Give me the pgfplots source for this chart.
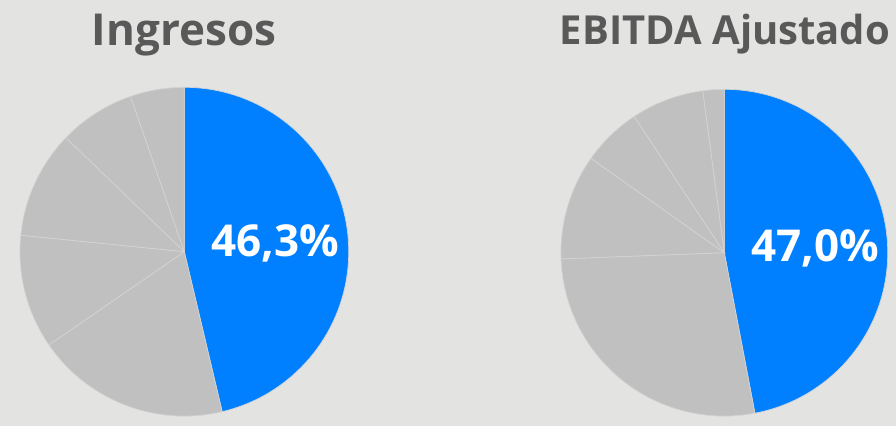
\documentclass[border=0pt]{standalone}
\usepackage{pgfplots}
\pgfplotsset{compat=1.18}
\usepackage{fontspec}
\setmainfont{Open Sans}
\definecolor{bgC}{RGB}{227,227,225}
\definecolor{grayC}{RGB}{192,192,192}
\definecolor{blueC}{RGB}{0,128,255}
\definecolor{sepC}{RGB}{212,212,212}
\definecolor{titleC}{RGB}{89,89,89}
% slice shares (percent), clockwise from 12 o'clock
% Ingresos: 46.3, 19.1, 11.2, 10.6, 7.5, 5.3
% EBITDA Ajustado: 47.0, 27.4, 10.4, 5.9, 7.2, 2.1
\begin{document}
\begin{tikzpicture}
\begin{axis}[
  hide axis, scale only axis, clip=false,
  width=672pt, height=319.5pt,
  xmin=0, xmax=896, ymin=0, ymax=426,
]
\fill[bgC] (0,0) rectangle (896,426);
\coordinate (ll) at (0,0);
\coordinate (ur) at (896,426);
\newcommand{\slice}[6]{%
  \filldraw[fill=#6, draw=sepC, line width=0.5pt] (#1,#2) -- ++({90-3.6*(#4)}:#3) arc[start angle={90-3.6*(#4)}, end angle={90-3.6*(#5)}, radius=#3] -- cycle;}
% Left pie
\slice{184.3}{174.3}{164.4}{0}{46.3}{blueC}
\slice{184.3}{174.3}{164.4}{46.3}{65.4}{grayC}
\slice{184.3}{174.3}{164.4}{65.4}{76.6}{grayC}
\slice{184.3}{174.3}{164.4}{76.6}{87.2}{grayC}
\slice{184.3}{174.3}{164.4}{87.2}{94.7}{grayC}
\slice{184.3}{174.3}{164.4}{94.7}{100}{grayC}
% Right pie
\slice{724.3}{173.3}{163.4}{0}{47.0}{blueC}
\slice{724.3}{173.3}{163.4}{47.0}{74.4}{grayC}
\slice{724.3}{173.3}{163.4}{74.4}{84.8}{grayC}
\slice{724.3}{173.3}{163.4}{84.8}{90.7}{grayC}
\slice{724.3}{173.3}{163.4}{90.7}{97.9}{grayC}
\slice{724.3}{173.3}{163.4}{97.9}{100}{grayC}
\node[anchor=base, text=titleC, font=\fontsize{33}{35}\selectfont\bfseries] at (184,380.3) {Ingresos};
\node[anchor=base, text=titleC, font=\fontsize{30}{32}\selectfont\bfseries] at (725,382) {EBITDA Ajustado};
\node[anchor=base, text=white, font=\fontsize{33}{35}\selectfont\bfseries] at (275,169.3) {46,3\%};
\node[anchor=base, text=white, font=\fontsize{33}{35}\selectfont\bfseries] at (815,164.3) {47,0\%};
\end{axis}
\pgfresetboundingbox
\path[use as bounding box] (ll) rectangle (ur);
\end{tikzpicture}
\end{document}
